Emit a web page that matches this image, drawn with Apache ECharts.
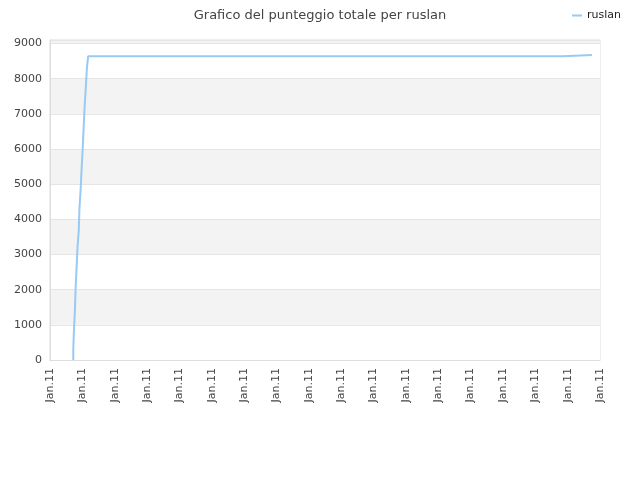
<!DOCTYPE html>
<html><head><meta charset="utf-8">
<script src="https://cdn.jsdelivr.net/npm/echarts@6/dist/echarts.min.js"></script>
<style>html,body{margin:0;padding:0;background:#fff}#c{width:640px;height:480px}</style>
</head><body><div id="c"></div>
<script>
var seriesName = 'ruslan';
var titleText = 'Grafico del punteggio totale per ruslan';
var tickLabel = 'Jan.11';
// x positions in tick units (0..17), values
var xs = [0.72, 0.74, 0.77, 0.79, 0.82, 0.85, 0.89, 0.91, 0.95, 0.98, 1.01, 1.04, 1.07, 1.11, 1.14, 1.18, 1.21, 15.85, 15.85, 16.75];
var ys = [0, 300, 850, 1400, 2000, 2600, 3200, 3700, 4300, 4900, 5500, 6000, 6600, 7200, 7800, 8300, 8640, 8640, 8670, 8670];
var data = xs.map(function(x, i){ return [x, ys[i]]; });
var chart = echarts.init(document.getElementById('c'));
chart.setOption({
  animation: false,
  title: { text: titleText, left: 'center', top: 4, textStyle: { fontSize: 13, fontWeight: 'normal', color: '#444', fontFamily: 'DejaVu Sans' } },
  legend: { right: 14, top: 5, itemWidth: 10, itemHeight: 2, icon: 'rect', textStyle: { fontSize: 11, color: '#222', fontFamily: 'DejaVu Sans' }, data: [seriesName] },
  grid: { left: 50, right: 40, top: 40, bottom: 120, show: true, borderColor: '#ddd', borderWidth: 1 },
  xAxis: { type: 'value', min: 0, max: 17, interval: 1,
    axisLine: { show: true, lineStyle: { color: '#ddd' } }, axisTick: { show: false }, splitLine: { show: false },
    axisLabel: { rotate: 90, formatter: function(){ return tickLabel; }, fontSize: 11, color: '#444', fontFamily: 'DejaVu Sans', margin: 8 } },
  yAxis: { type: 'value', min: 0, max: 9100, interval: 1000,
    axisLine: { show: true, lineStyle: { color: '#ddd' } }, axisTick: { show: false },
    splitLine: { show: true, lineStyle: { color: '#e5e5e5' } },
    splitArea: { show: true, areaStyle: { color: ['#ffffff', '#f3f3f3'] } },
    axisLabel: { fontSize: 11, color: '#444', fontFamily: 'DejaVu Sans', margin: 8, showMaxLabel: false, formatter: function(v){ return String(v); } } },
  series: [{ name: seriesName, type: 'line', step: 'start', showSymbol: false, data: data,
    lineStyle: { color: '#99c9f5', width: 2 }, itemStyle: { color: '#99c9f5' } }]
});
</script></body></html>
